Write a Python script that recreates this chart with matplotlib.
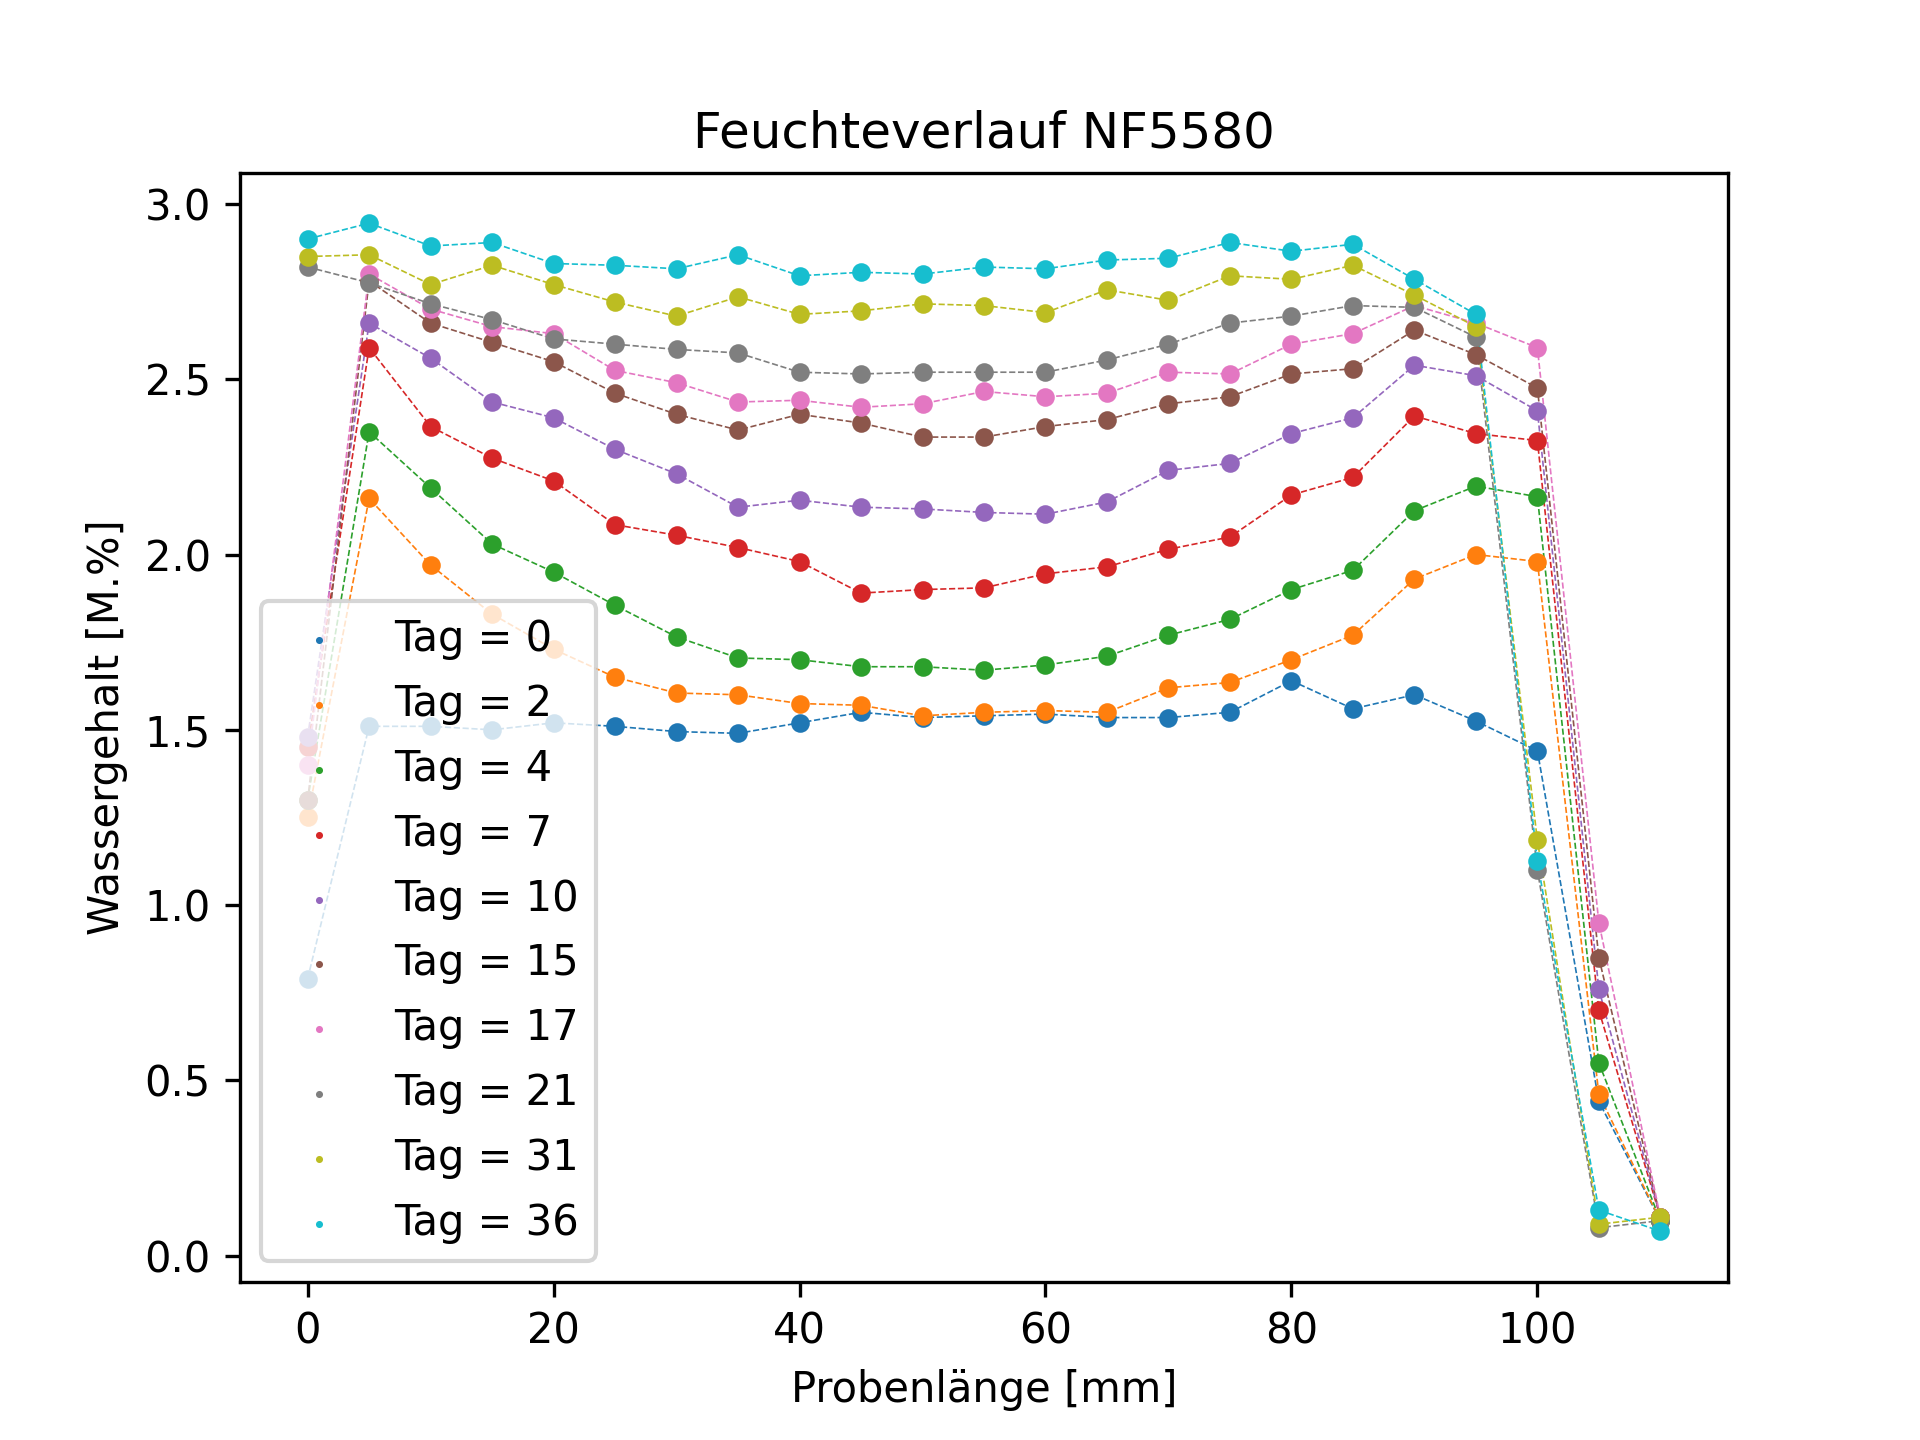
import matplotlib
matplotlib.use("Agg")
import matplotlib.pyplot as plt
import numpy as np

x = np.arange(0, 115, 5)
tage = [0, 2, 4, 7, 10, 15, 17, 21, 31, 36]

t0 = [0.79, 1.51, 1.51, 1.50, 1.52, 1.51, 1.495, 1.49, 1.52, 1.55, 1.535, 1.54, 1.545, 1.535, 1.535, 1.55, 1.64, 1.56, 1.60, 1.525, 1.44, 0.44, 0.10]
t2 = [1.25, 2.16, 1.97, 1.83, 1.73, 1.65, 1.605, 1.60, 1.575, 1.57, 1.54, 1.55, 1.555, 1.55, 1.62, 1.635, 1.70, 1.77, 1.93, 2.00, 1.98, 0.46, 0.10]
t4 = [1.30, 2.35, 2.19, 2.03, 1.95, 1.855, 1.765, 1.705, 1.70, 1.68, 1.68, 1.67, 1.685, 1.71, 1.77, 1.815, 1.90, 1.955, 2.125, 2.195, 2.165, 0.55, 0.10]
t7 = [1.45, 2.59, 2.365, 2.275, 2.21, 2.085, 2.055, 2.02, 1.98, 1.89, 1.90, 1.905, 1.945, 1.965, 2.015, 2.05, 2.17, 2.22, 2.395, 2.345, 2.325, 0.70, 0.11]
t10 = [1.48, 2.66, 2.56, 2.435, 2.39, 2.30, 2.23, 2.135, 2.155, 2.135, 2.13, 2.12, 2.115, 2.15, 2.24, 2.26, 2.345, 2.39, 2.54, 2.51, 2.41, 0.76, 0.11]
t15 = [1.30, 2.78, 2.66, 2.605, 2.55, 2.46, 2.40, 2.355, 2.40, 2.375, 2.335, 2.335, 2.365, 2.385, 2.43, 2.45, 2.515, 2.53, 2.64, 2.57, 2.475, 0.85, 0.11]
t17 = [1.40, 2.80, 2.70, 2.65, 2.63, 2.525, 2.49, 2.435, 2.44, 2.42, 2.43, 2.465, 2.45, 2.46, 2.52, 2.515, 2.60, 2.63, 2.71, 2.66, 2.59, 0.95, 0.11]
t21 = [2.82, 2.775, 2.715, 2.67, 2.615, 2.60, 2.585, 2.575, 2.52, 2.515, 2.52, 2.52, 2.52, 2.555, 2.60, 2.66, 2.68, 2.71, 2.705, 2.62, 1.10, 0.08, 0.10]
t31 = [2.85, 2.855, 2.77, 2.825, 2.77, 2.72, 2.68, 2.735, 2.685, 2.695, 2.715, 2.71, 2.69, 2.755, 2.725, 2.795, 2.785, 2.825, 2.74, 2.65, 1.185, 0.09, 0.11]
t36 = [2.90, 2.945, 2.88, 2.89, 2.83, 2.825, 2.815, 2.855, 2.795, 2.805, 2.80, 2.82, 2.815, 2.84, 2.845, 2.89, 2.865, 2.885, 2.785, 2.685, 1.125, 0.13, 0.07]

werte = [t0, t2, t4, t7, t10, t15, t17, t21, t31, t36]

fig, ax = plt.subplots(figsize=(6.4, 4.8), dpi=300)
for i, (tag, w) in enumerate(zip(tage, werte)):
    c = "C%d" % i
    ax.plot(x, w, "--", color=c, linewidth=0.4)
    ax.scatter(x, w, color=c, s=12, label="Tag = %d" % tag, zorder=3)

ax.set_title("Feuchteverlauf NF5580")
ax.set_xlabel("Probenlänge [mm]")
ax.set_ylabel("Wassergehalt [M.%]")
ax.legend(loc="lower left", fontsize=10, markerscale=0.2, labelspacing=0.55)
plt.savefig("out.png")
